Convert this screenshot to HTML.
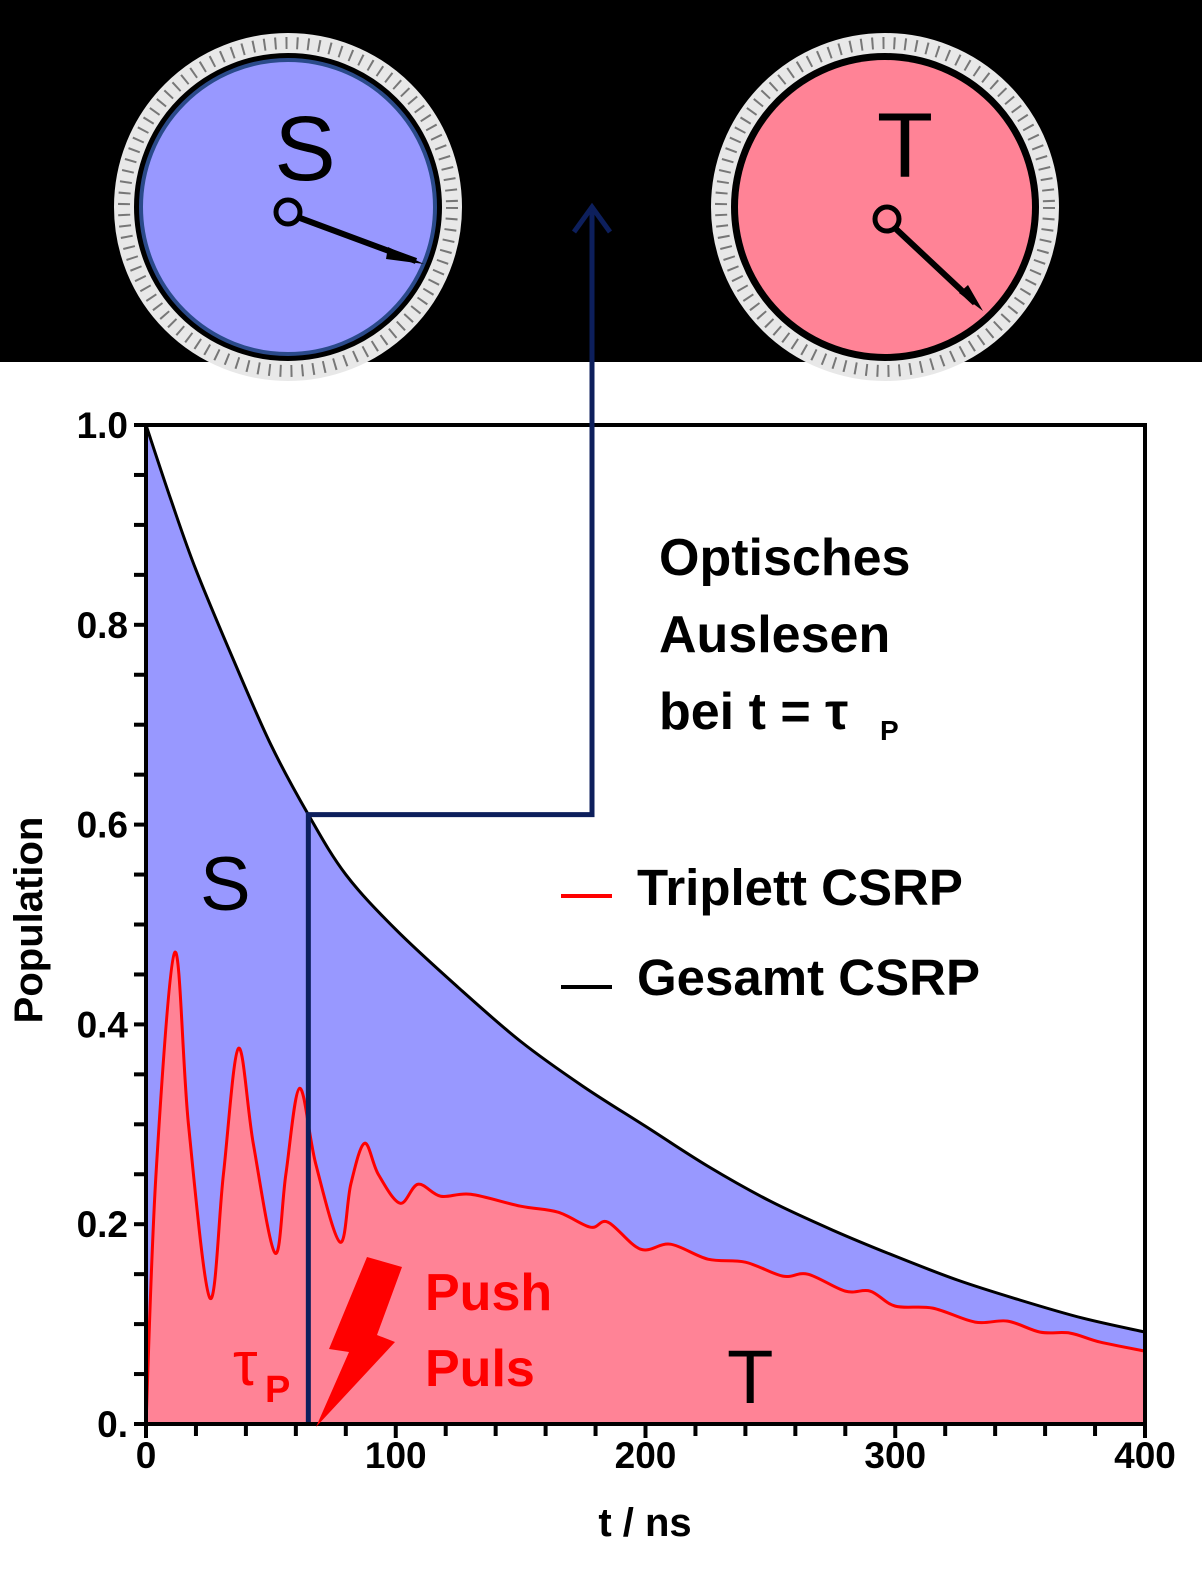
<!DOCTYPE html>
<html><head><meta charset="utf-8"><style>
body{margin:0;background:#fff;}
svg{display:block;font-family:"Liberation Sans",Arial,sans-serif;}
</style></head><body>
<svg id="c" width="1202" height="1585" viewBox="0 0 1202 1585">
<rect x="0" y="0" width="1202" height="362" fill="#000"/>
<g>
<circle cx="288" cy="207" r="164" fill="none" stroke="#e8e8e8" stroke-width="20"/>
<circle cx="288" cy="207" r="164" fill="none" stroke="#777" stroke-width="12" stroke-dasharray="2 9"/>
<circle cx="288" cy="207" r="147" fill="#9898ff" stroke="#2a4a8a" stroke-width="4"/>
<text x="305" y="180" font-size="92" text-anchor="middle" fill="#000">S</text>
<line x1="300" y1="218" x2="416" y2="261" stroke="#000" stroke-width="6"/>
<polygon points="388,247 424,264 386,259" fill="#000"/>
<circle cx="288" cy="212" r="12" fill="#9898ff" stroke="#000" stroke-width="5"/>
</g>
<g>
<circle cx="885" cy="207" r="164" fill="none" stroke="#e8e8e8" stroke-width="20"/>
<circle cx="885" cy="207" r="164" fill="none" stroke="#777" stroke-width="12" stroke-dasharray="2 9"/>
<circle cx="885" cy="207" r="147" fill="#ff8396"/>
<text x="905" y="177" font-size="92" text-anchor="middle" fill="#000">T</text>
<line x1="896" y1="229" x2="975" y2="303" stroke="#000" stroke-width="6"/>
<polygon points="959,293 983,311 968,285" fill="#000"/>
<circle cx="887" cy="219" r="12" fill="#ff8396" stroke="#000" stroke-width="5"/>
</g>
<g id="plot"></g>
</svg>
<script>
const totalT=[0,10,20,35,50,65,80,100,125,150,175,200,225,250,275,300,325,350,375,400];
const totalV=[1.0,0.925,0.855,0.765,0.68,0.61,0.55,0.495,0.437,0.383,0.338,0.298,0.258,0.223,0.194,0.168,0.144,0.124,0.106,0.092];
const tripT=[0,4,11.5,17,25.6,31,37,43,51.7,56,61.5,68,77.7,82,87.5,93,101.7,108.9,118,130,150,165,178,185,198,210,225,240,255,265,280,290,300,315,332,345,358,370,382,400];
const tripV=[0,0.25,0.472,0.30,0.126,0.25,0.376,0.28,0.171,0.25,0.336,0.26,0.182,0.24,0.281,0.25,0.221,0.24,0.228,0.23,0.218,0.212,0.197,0.202,0.175,0.18,0.165,0.162,0.148,0.15,0.133,0.133,0.118,0.116,0.102,0.103,0.092,0.091,0.082,0.073];
const xTicks=[0,100,200,300,400];
const yTicks=[0,0.2,0.4,0.6,0.8,1.0];
const yTickLabels=["0.","0.2","0.4","0.6","0.8","1.0"];
const tauP=65;
const X0=146,X1=1145,Y0=1424,Y1=425;
const sx=t=>X0+(t/400)*(X1-X0);
const sy=v=>Y0-v*(Y0-Y1);
const NS='http://www.w3.org/2000/svg';
const g=document.getElementById('plot');
function mk(tag,attrs,parent){const e=document.createElementNS(NS,tag);for(const k in attrs)e.setAttribute(k,attrs[k]);(parent||g).appendChild(e);return e;}
function smooth(ts,vs){const p=ts.map((t,i)=>[sx(t),sy(vs[i])]);let d='M'+p[0][0]+','+p[0][1];
for(let i=0;i<p.length-1;i++){const a=p[Math.max(0,i-1)],b=p[i],c=p[i+1],e=p[Math.min(p.length-1,i+2)];
d+=' C'+(b[0]+(c[0]-a[0])/6)+','+(b[1]+(c[1]-a[1])/6)+' '+(c[0]-(e[0]-b[0])/6)+','+(c[1]-(e[1]-b[1])/6)+' '+c[0]+','+c[1];}return d;}
const dT=smooth(totalT,totalV),dR=smooth(tripT,tripV);
let e;
e=mk('path',{d:dT+' L'+sx(400)+','+Y0+' L'+sx(0)+','+Y0+' Z',fill:'#9898ff'});


e=mk('path',{d:dR+' L'+sx(400)+','+Y0+' L'+sx(0)+','+Y0+' Z',fill:'#ff8396'});


e=mk('path',{d:dR,fill:'none',stroke:'#ff0000','stroke-width':3});


e=mk('path',{d:dT,fill:'none',stroke:'#000','stroke-width':3});


e=mk('rect',{x:X0,y:Y1,width:X1-X0,height:Y0-Y1,fill:'none',stroke:'#000','stroke-width':4});


for(let t=0;t<=400;t+=20){e=mk('line',{x1:sx(t),x2:sx(t),y1:Y0,y2:Y0+(t%100===0?14:12),stroke:'#000','stroke-width':4});

}
for(let i=0;i<=20;i++){const v=i*0.05;e=mk('line',{x1:X0-12,x2:X0,y1:sy(v),y2:sy(v),stroke:'#000','stroke-width':4});

}
xTicks.forEach(t=>{e=mk('text',{x:sx(t),y:1468,'font-size':37,'font-weight':'bold','text-anchor':'middle'});e.textContent=t;

});
yTicks.forEach((v,i)=>{e=mk('text',{x:128,y:sy(v)+13,'font-size':37,'font-weight':'bold','text-anchor':'end'});e.textContent=yTickLabels[i];

});
e=mk('text',{x:645,y:1536,'font-size':40,'font-weight':'bold','text-anchor':'middle'});e.textContent='t / ns';


e=mk('text',{x:0,y:0,'font-size':40,'font-weight':'bold','text-anchor':'middle',transform:'translate(42,920) rotate(-90)'});e.textContent='Population';


const xt=sx(tauP),yt=sy(totalV[5]);
e=mk('polyline',{points:xt+','+(Y0-2)+' '+xt+','+yt+' 592,'+yt+' 592,206',fill:'none',stroke:'#0d1f5c','stroke-width':5});


e=mk('polyline',{points:'574,232 592,207 610,232',fill:'none',stroke:'#0d1f5c','stroke-width':5});


e=mk('polygon',{points:'367,1257 402,1267 377,1335 395,1342 316,1427 349,1352 329,1349',fill:'#ff0000'});


const txt=(s,x,y,size,fill,w)=>{const t=mk('text',{x:x,y:y,'font-size':size,fill:fill,'font-weight':w||'bold'});t.textContent=s;return t;};
e=txt('Optisches',659,575,52,'#000');


e=txt('Auslesen',659,652,52,'#000');


e=txt('bei t =  τ',659,729,52,'#000');


e=txt('P',880,740,28,'#000');


e=mk('line',{x1:561,x2:612,y1:896,y2:896,stroke:'#ff0000','stroke-width':4});


e=txt('Triplett CSRP',637,905,51,'#000');


e=mk('line',{x1:561,x2:612,y1:987,y2:987,stroke:'#000','stroke-width':4});


e=txt('Gesamt CSRP',637,995,51,'#000');


e=txt('S',200,910,76,'#000','normal');


e=txt('T',727,1403,76,'#000','normal');


e=txt('Push',425,1310,52,'#ff0000');


e=txt('Puls',425,1386,52,'#ff0000');


e=txt('τ',233,1385,62,'#ff0000','normal');


e=txt('P',265,1402,38,'#ff0000');


</script>
</body></html>
